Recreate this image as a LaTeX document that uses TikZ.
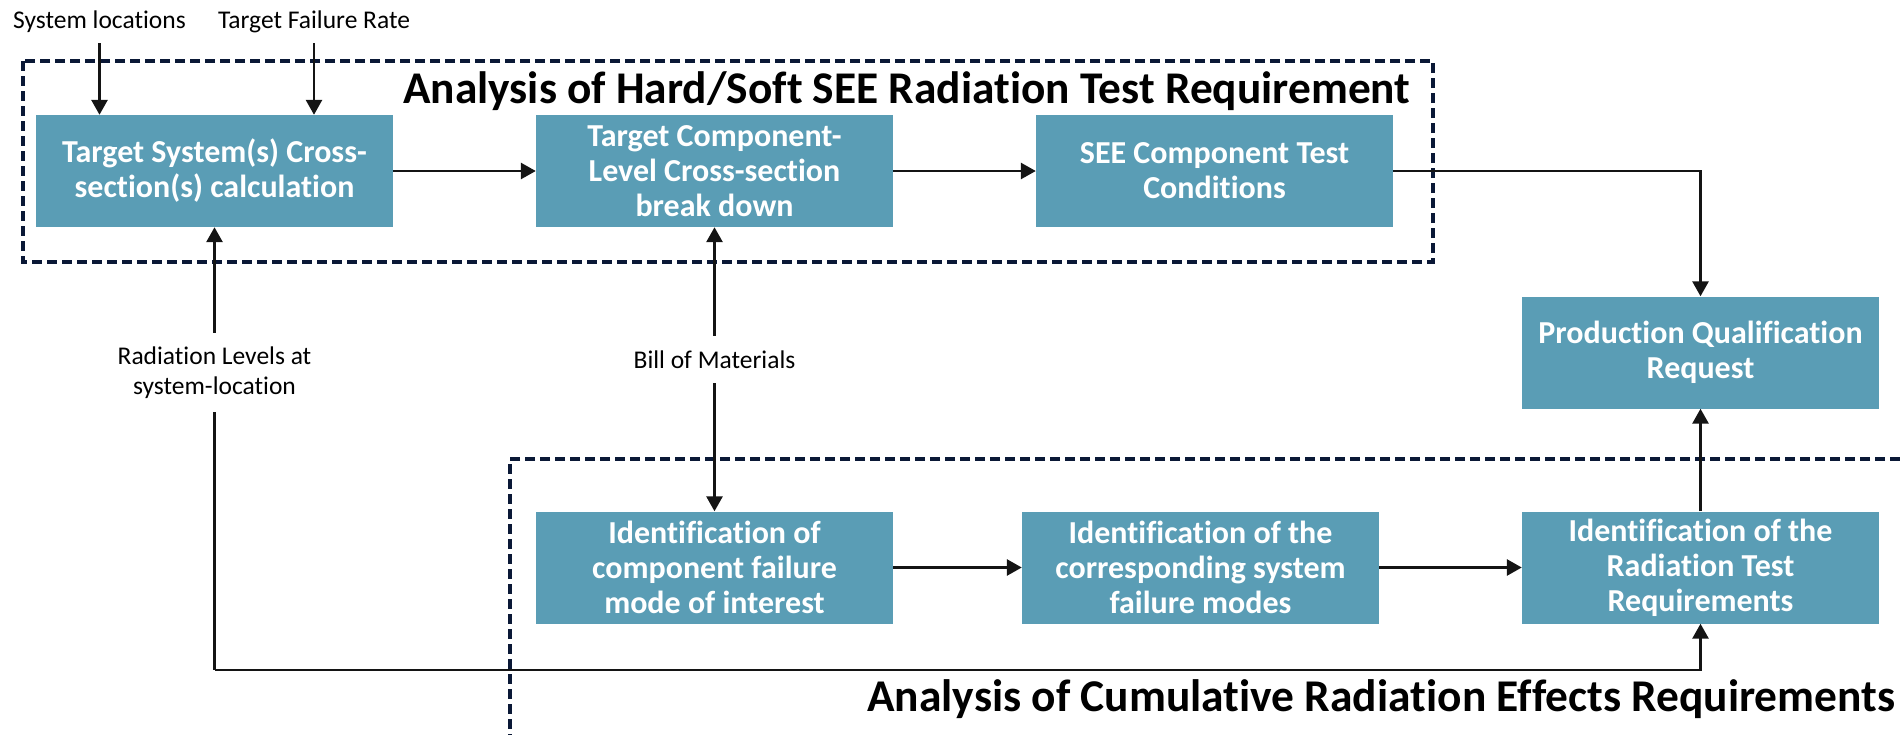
\documentclass[tikz,border=0pt]{standalone}
\usepackage{fontspec}
\setmainfont[Ligatures={NoCommon}]{Carlito}
\usetikzlibrary{arrows.meta}
\definecolor{boxblue}{RGB}{90,157,181}
\definecolor{navy}{RGB}{10,24,54}
\definecolor{conn}{RGB}{20,20,20}
\tikzset{
  procbox/.style={rectangle, fill=boxblue, text=white, minimum width=357pt, minimum height=112pt,
    inner sep=0pt, align=center, font=\bfseries\fontsize{32}{35}\selectfont},
  lbl/.style={inner sep=0pt, align=center, font=\fontsize{25.5}{30}\selectfont, text=black},
  ttl/.style={inner sep=0pt, anchor=base west, font=\bfseries\fontsize{44}{50}\selectfont},
  conline/.style={draw=conn, line width=2.8pt, -{Triangle[length=15pt,width=16pt]}},
  plainline/.style={draw=conn, line width=2.8pt},
  dashbox/.style={draw=navy, line width=3.6pt, dash pattern=on 10pt off 5pt}
}
\begin{document}
\begin{tikzpicture}[x=1pt,y=-1pt]
\useasboundingbox (0,0) rectangle (1900,734);
\clip (0,0) rectangle (1900,734);
% dashed groups
\draw[dashbox] (23,61) rectangle (1433,262);
\draw[dashbox] (1915,459) -- (510,459) -- (510,750);
% titles
\node[ttl] (tA) at (403,103) {\resizebox{1007pt}{!}{Analysis of Hard/Soft SEE Radiation Test Requirement}};
\node[ttl] (tB) at (867,711) {\resizebox{1028pt}{!}{Analysis of Cumulative Radiation Effects Requirements}};
% boxes
\node[procbox] (b1) at (214.5,171) {Target System(s) Cross-\\section(s) calculation};
\node[procbox] (b2) at (714.5,171) {Target Component-\\Level Cross-section\\break down};
\node[procbox] (b3) at (1214.5,171) {SEE Component Test\\Conditions};
\node[procbox] (pqr) at (1700.5,352.5) {Production Qualification\\Request};
\node[procbox] (b4) at (714.5,567.5) {Identification of\\component failure\\mode of interest};
\node[procbox] (b5) at (1200.5,567.5) {Identification of the\\corresponding system\\failure modes};
\node[procbox] (b6) at (1700.5,567.5) {Identification of the\\Radiation Test\\Requirements};
% labels
\node[lbl, minimum height=42pt] (sl) at (99.5,22) {System locations};
\node[lbl, minimum height=42pt] (tfr) at (314,22) {Target Failure Rate};
\node[lbl, minimum height=79pt] (rad) at (214.5,372.5) {Radiation Levels at\\system-location};
\node[lbl, minimum height=47pt] (bom) at (714.5,359.5) {Bill of Materials};
\coordinate (c1) at (214.5,670);
% connectors
\draw[conline] (sl.south) -- (sl.south |- b1.north);
\draw[conline] (tfr.south) -- (tfr.south |- b1.north);
\draw[conline] (b1.east) -- (b2.west);
\draw[conline] (b2.east) -- (b3.west);
\draw[conline] (b3.east) -| (pqr.north);
\draw[conline] (rad.north) -- (b1.south);
\draw[plainline] (rad.south) -- (c1);
\draw[conline] (c1) -| (b6.south);
\draw[conline] (bom.north) -- (b2.south);
\draw[conline] (bom.south) -- (b4.north);
\draw[conline] (b4.east) -- (b5.west);
\draw[conline] (b5.east) -- (b6.west);
\draw[conline] (b6.north) -- (pqr.south);
\end{tikzpicture}
\end{document}
